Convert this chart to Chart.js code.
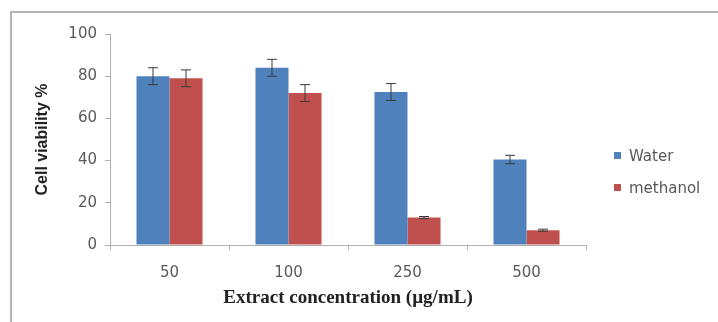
<html lang="en">
<head>
    <meta charset="UTF-8">
    <title>Cell viability</title>
    <script src="https://cdn.jsdelivr.net/npm/chart.js"></script>
    <style>
        body { margin: 0; background: #fff; }
        #wrap { position: relative; width: 718px; height: 322px; overflow: hidden; }
        #frame { position: absolute; left: 10px; top: 11px; width: 720px; height: 320px;
                 border-top: 2px solid #b4b4b4; border-left: 2px solid #b4b4b4; }
        #legend { position: absolute; left: 614px; top: 146px; font: 15px "DejaVu Sans", sans-serif; color: #595959; }
        #legend div { height: 20px; line-height: 20px; margin-bottom: 12px; white-space: nowrap; }
        #legend span { display: inline-block; width: 7px; height: 7px; margin-right: 8px; vertical-align: 2px; }
    </style>
</head>
<body>
<div id="wrap">
    <div id="frame"></div>
    <canvas id="chart" width="718" height="322"></canvas>
    <div id="legend"></div>
</div>
<script>
    // valeurs
    var concentrations = ['50', '100', '250', '500'];
    var waterValues = [80, 84, 72.5, 40.5];
    var waterErrors = [4, 4, 4, 2];
    var methanolValues = [79, 72, 13, 7];
    var methanolErrors = [4, 4, 0.5, 0.5];
    var yTicks = [0, 20, 40, 60, 80, 100];

    var tickFont = { family: 'DejaVu Sans, sans-serif', size: 15 };

    // barres d'erreur dessinées à partir des échelles
    var errorBars = {
        id: 'errorBars',
        afterDatasetsDraw: function (chart) {
            var ctx = chart.ctx;
            var y = chart.scales.y;
            ctx.save();
            ctx.strokeStyle = '#3a3a3a';
            ctx.lineWidth = 1;
            chart.data.datasets.forEach(function (ds, i) {
                chart.getDatasetMeta(i).data.forEach(function (bar, j) {
                    var v = ds.data[j], e = ds.errors[j];
                    var top = y.getPixelForValue(v + e);
                    var bot = y.getPixelForValue(v - e);
                    ctx.beginPath();
                    ctx.moveTo(bar.x, top); ctx.lineTo(bar.x, bot);
                    ctx.moveTo(bar.x - 5, top); ctx.lineTo(bar.x + 5, top);
                    ctx.moveTo(bar.x - 5, bot); ctx.lineTo(bar.x + 5, bot);
                    ctx.stroke();
                });
            });
            ctx.restore();
        }
    };

    var ctx = document.getElementById('chart').getContext('2d');
    var chart = new Chart(ctx, {
        type: 'bar',
        data: {
            labels: concentrations,
            datasets: [{
                label: 'Water',
                data: waterValues,
                errors: waterErrors,
                backgroundColor: '#4f81bd'
            }, {
                label: 'methanol',
                data: methanolValues,
                errors: methanolErrors,
                backgroundColor: '#c0504d'
            }]
        },
        options: {
            responsive: false,
            animation: false,
            layout: { padding: { left: 26, top: 34, right: 132, bottom: 13 } },
            datasets: { bar: { categoryPercentage: 0.555, barPercentage: 1 } },
            plugins: { legend: { display: false }, tooltip: { enabled: false } },
            scales: {
                x: {
                    grid: { drawOnChartArea: false, drawTicks: true, tickLength: 5, color: '#b0b0b0' },
                    border: { color: '#b0b0b0' },
                    ticks: { color: '#595959', font: tickFont, padding: 14 },
                    title: {
                        display: true,
                        text: 'Extract concentration (µg/mL)',
                        color: '#222',
                        font: { family: 'Liberation Serif, Times New Roman, serif', size: 19, weight: 'bold' },
                        padding: { top: 0, bottom: 0 }
                    },
                    afterFit: function (s) { s.height = 64; }
                },
                y: {
                    min: 0,
                    max: 100,
                    afterBuildTicks: function (s) { s.ticks = yTicks.map(function (v) { return { value: v }; }); },
                    grid: { drawOnChartArea: false, drawTicks: true, tickLength: 5, color: '#b0b0b0' },
                    border: { color: '#b0b0b0' },
                    ticks: { color: '#595959', font: tickFont, padding: 8 },
                    title: {
                        display: true,
                        text: 'Cell viability %',
                        color: '#222',
                        font: { family: 'Liberation Sans, Arial, sans-serif', size: 16, weight: 'bold' },
                        padding: { top: 7, bottom: 0 }
                    },
                    afterFit: function (s) { s.width = 84; }
                }
            }
        },
        plugins: [errorBars]
    });

    // légende HTML à partir des jeux de données
    var legend = document.getElementById('legend');
    chart.data.datasets.forEach(function (ds) {
        var row = document.createElement('div');
        row.innerHTML = '<span style="background:' + ds.backgroundColor + '"></span>' + ds.label;
        legend.appendChild(row);
    });
</script>
</body>
</html>
